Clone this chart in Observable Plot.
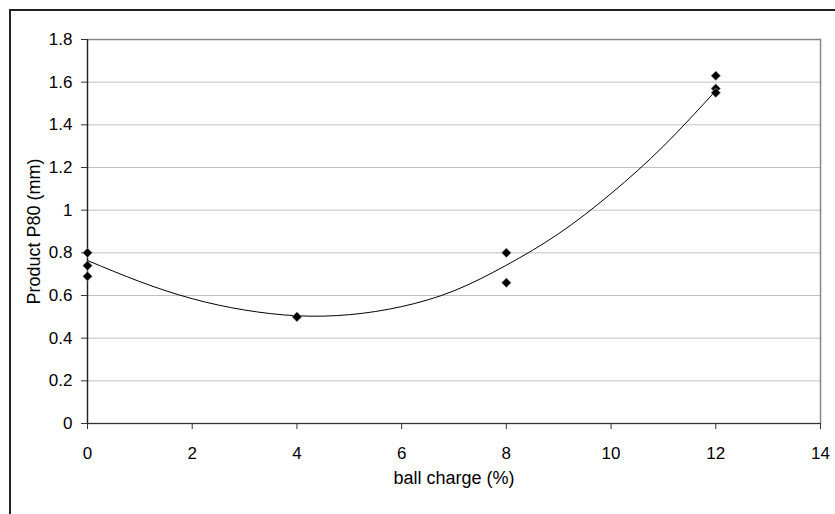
<!DOCTYPE html>
<html>
<head>
<meta charset="utf-8">
<script src="https://cdn.jsdelivr.net/npm/d3@7"></script>
<script src="https://cdn.jsdelivr.net/npm/@observablehq/plot@0.6"></script>
<style>
  html, body { margin: 0; padding: 0; background: #fff; overflow: hidden; }
  #wrap { position: relative; width: 835px; height: 514px; }
  #border { position: absolute; left: 9px; top: 9px; width: 900px; height: 600px;
            border-left: 2px solid #222; border-top: 2px solid #222; pointer-events: none; }
</style>
</head>
<body>
<div id="wrap"><div id="border"></div></div>
<script>
// Measured points: ball charge (%) vs product P80 (mm)
const ballCharge = [0, 0, 0, 4, 4, 4, 8, 8, 12, 12, 12];
const p80 = [0.80, 0.74, 0.69, 0.50, 0.50, 0.50, 0.80, 0.66, 1.63, 1.57, 1.55];

// Trend line
const trendX = [0, 1, 2, 3, 4, 5, 6, 7, 8, 9, 10, 11, 12];
const trendY = [0.764, 0.665, 0.585, 0.532, 0.505, 0.51, 0.548, 0.622, 0.742, 0.89, 1.078, 1.30, 1.56];

// Tick labels
const xTicks = [0, 2, 4, 6, 8, 10, 12, 14];
const yTicks = [0, 0.2, 0.4, 0.6, 0.8, 1, 1.2, 1.4, 1.6, 1.8];

const xLabel = "ball charge (%)";
const yLabel = "Product P80 (mm)";

const points = ballCharge.map((x, i) => ({x, y: p80[i]}));
const trend = trendX.map((x, i) => ({x, y: trendY[i]}));

const chart = Plot.plot({
  width: 835,
  height: 514,
  marginLeft: 87,
  marginRight: 15,
  marginTop: 39,
  marginBottom: 91,
  style: {fontFamily: "'Liberation Sans', Arial, sans-serif", fontSize: "17px", background: "transparent", color: "#000"},
  x: {domain: [0, 14]},
  y: {domain: [0, 1.8]},
  marks: [
    Plot.gridY(yTicks.filter(d => d > 0 && d < 1.8), {stroke: "#c0c0c0", strokeOpacity: 1, strokeWidth: 1}),
    Plot.frame({stroke: "#888", strokeWidth: 1.5}),
    Plot.axisX(xTicks, {tickSize: 6, tickPadding: 17, label: null, stroke: "#333"}),
    Plot.axisY(yTicks, {tickSize: 6, tickPadding: 9, label: null, stroke: "#333",
      tickFormat: d => String(+d.toFixed(1))}),
    Plot.ruleX([0], {stroke: "#222", strokeWidth: 1.2}),
    Plot.ruleY([0], {stroke: "#333", strokeWidth: 1.2}),
    Plot.line(trend, {x: "x", y: "y", stroke: "#000", strokeWidth: 1, curve: "natural"}),
    Plot.dot(points, {x: "x", y: "y", symbol: "diamond2", r: 4.3, fill: "#000", stroke: "#aaa", strokeWidth: 0.6}),
    Plot.text([yLabel], {frameAnchor: "left", textAnchor: "middle", rotate: -90, dx: -53, fontSize: 18, fill: "#000"}),
    Plot.text([xLabel], {frameAnchor: "bottom", textAnchor: "middle", dy: 60, fontSize: 18, fill: "#000"})
  ]
});
document.getElementById("wrap").prepend(chart);
chart.style.position = "absolute";
chart.style.left = "0px";
chart.style.top = "0px";
</script>
</body>
</html>
